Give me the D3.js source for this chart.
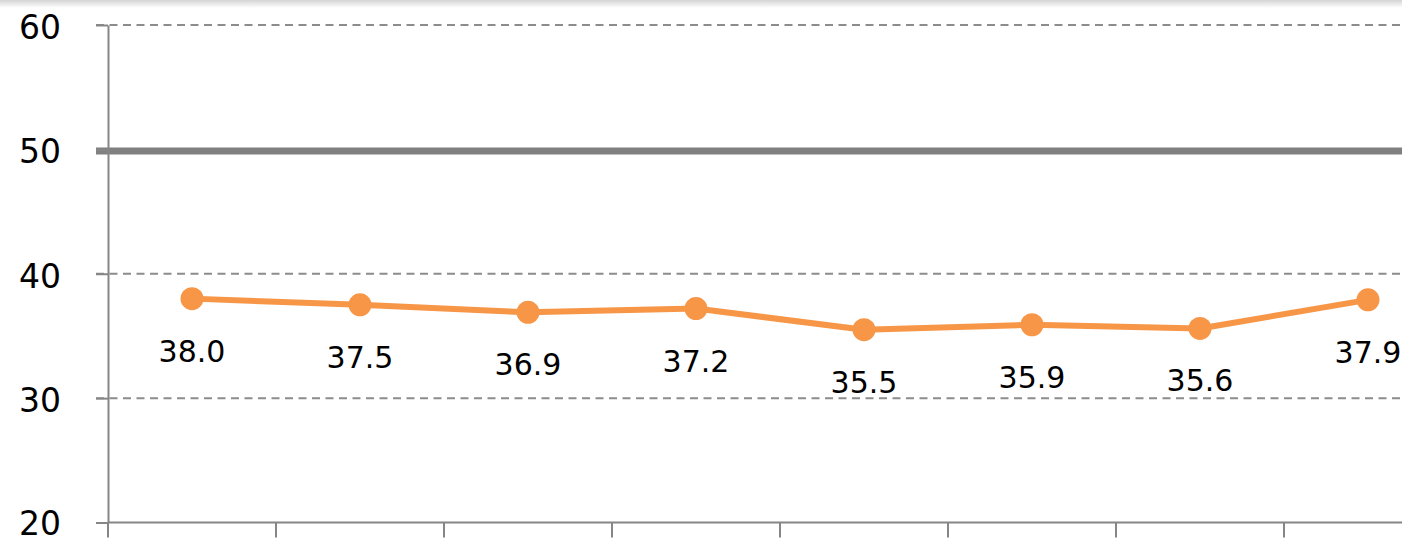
<!DOCTYPE html>
<html>
<head>
<meta charset="utf-8">
<script src="https://cdn.jsdelivr.net/npm/d3@7"></script>
<style>
  html, body { margin: 0; padding: 0; background: #fff; overflow: hidden; }
  svg { display: block; font-family: "DejaVu Sans", Verdana, sans-serif; }
</style>
</head>
<body>
<div id="chart"></div>
<script>
// Categories (no labels shown on the axis) and the series values
const categories = ["1", "2", "3", "4", "5", "6", "7", "8"];
const values = [38.0, 37.5, 36.9, 37.2, 35.5, 35.9, 35.6, 37.9];
const yTicks = [20, 30, 40, 50, 60];
const dashedLines = [30, 40, 60];
const referenceLine = 50;

const width = 1402, height = 542;

const svg = d3.select("#chart").append("svg")
  .attr("width", width)
  .attr("height", height);

// Plot area runs past the right edge of the window (the last label is cut off)
const x = d3.scaleBand().domain(categories).range([108, 1452]).padding(0);
const y = d3.scaleLinear().domain([20, 60]).range([522.5, 25]);

// Soft shadow along the top edge
const defs = svg.append("defs");
const grad = defs.append("linearGradient")
  .attr("id", "topShade").attr("x1", 0).attr("y1", 0).attr("x2", 0).attr("y2", 1);
grad.append("stop").attr("offset", "0%").attr("stop-color", "#d4d4d4");
grad.append("stop").attr("offset", "100%").attr("stop-color", "#ffffff");
svg.append("rect")
  .attr("x", 0).attr("y", 0).attr("width", width).attr("height", 8)
  .attr("fill", "url(#topShade)");

// Dashed gridlines
svg.append("g").selectAll("line")
  .data(dashedLines)
  .join("line")
  .attr("x1", 96).attr("x2", width)
  .attr("y1", d => y(d)).attr("y2", d => y(d))
  .attr("stroke", "#8c8c8c")
  .attr("stroke-width", 2)
  .attr("stroke-dasharray", "8,5.5");

// Thick reference line at 50
svg.append("line")
  .attr("x1", 96).attr("x2", width)
  .attr("y1", y(referenceLine) + 1.5).attr("y2", y(referenceLine) + 1.5)
  .attr("stroke", "#808080")
  .attr("stroke-width", 7);

// Y axis
const yAxis = svg.append("g")
  .attr("transform", "translate(108,0)")
  .call(d3.axisLeft(y).tickValues(yTicks).tickSize(12).tickSizeOuter(0));
yAxis.select(".domain").attr("stroke", "#868686").attr("stroke-width", 2);
yAxis.selectAll(".tick line").attr("stroke", "#868686").attr("stroke-width", 2);
yAxis.selectAll(".tick text")
  .attr("x", -47)
  .attr("dy", null)
  .attr("y", d => d === 20 ? 11.5 : 13.5)
  .attr("fill", "#000")
  .style("font-family", "DejaVu Sans, Verdana, sans-serif")
  .style("font-size", "33px");

// X axis: line along the bottom, ticks at category boundaries
svg.append("line")
  .attr("x1", 108).attr("x2", width)
  .attr("y1", y(20)).attr("y2", y(20))
  .attr("stroke", "#868686").attr("stroke-width", 2);
svg.append("g").selectAll("line")
  .data(categories)
  .join("line")
  .attr("x1", d => x(d)).attr("x2", d => x(d))
  .attr("y1", y(20)).attr("y2", y(20) + 15)
  .attr("stroke", "#868686").attr("stroke-width", 2);

// Series line
const cx = d => x(d) + x.bandwidth() / 2;
const line = d3.line()
  .x((d, i) => cx(categories[i]))
  .y(d => y(d));

svg.append("path")
  .datum(values)
  .attr("d", line)
  .attr("fill", "none")
  .attr("stroke", "#F79646")
  .attr("stroke-width", 6)
  .attr("stroke-linejoin", "round");

svg.append("g").selectAll("circle")
  .data(values)
  .join("circle")
  .attr("cx", (d, i) => cx(categories[i]))
  .attr("cy", d => y(d))
  .attr("r", 11.5)
  .attr("fill", "#F79646");

// Data labels below each point
svg.append("g").selectAll("text")
  .data(values)
  .join("text")
  .attr("x", (d, i) => cx(categories[i]))
  .attr("y", d => y(d) + 63)
  .attr("text-anchor", "middle")
  .attr("font-size", "30px")
  .attr("fill", "#000")
  .text(d => d.toFixed(1));
</script>
</body>
</html>
